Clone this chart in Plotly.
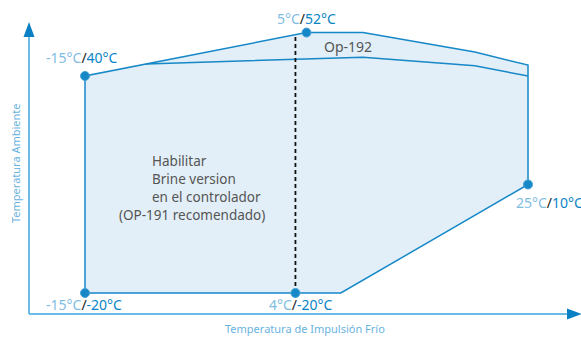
import plotly.graph_objects as go

# envelope outline (°C water / °C ambient)
outer_x = [-15, -15, 5, 10.1, 20.2, 25, 25, 8.1, -15]
outer_y = [-20, 40, 52, 52, 46.6, 43, 10, -20, -20]

# Op-192 inner boundary
inner_x = [-9.5, 10.1, 20.2, 25]
inner_y = [43.3, 45.2, 42.8, 40]

# dashed limit at 4°C
dash_x = [4, 4]
dash_y = [-20, 51.4]

# labelled corner points
pt_x = [-15, 5, 25, -15, 4]
pt_y = [40, 52, 10, -20, -20]

LIGHT = "#7fbde3"
DARK = "#0b84c6"
LINE = "#1688c8"
FONT = "Noto Sans"

fig = go.Figure()

fig.add_trace(go.Scatter(x=outer_x, y=outer_y, fill="toself", fillcolor="#e2eff8",
                         mode="lines", line=dict(color=LINE, width=1.5), hoverinfo="skip"))
fig.add_trace(go.Scatter(x=inner_x, y=inner_y, mode="lines",
                         line=dict(color=LINE, width=1.5), hoverinfo="skip"))
fig.add_trace(go.Scatter(x=dash_x, y=dash_y, mode="lines",
                         line=dict(color="#111111", width=1.8, dash="4px,3px"), hoverinfo="skip"))
fig.add_trace(go.Scatter(x=pt_x, y=pt_y, mode="markers",
                         marker=dict(size=9, color=LINE, line=dict(color="#4aa3d6", width=1))))

# label offsets in pixels (xshift, yshift)
offsets = [(-3, 18), (0, 14), (21, -18), (-1, -11), (6, -11)]
for x, y, (dx, dy) in zip(pt_x, pt_y, offsets):
    txt = (f"<span style='color:{LIGHT}'>{x}°C</span>"
           f"<span style='color:#222222'>/</span>"
           f"<span style='color:{DARK}'>{y}°C</span>")
    fig.add_annotation(x=x, y=y, text=txt, showarrow=False, xshift=dx, yshift=dy,
                       xanchor="center", yanchor="middle",
                       font=dict(family=FONT, size=14))


def note(px_x, px_y, text, color, size, anchor="center", angle=0):
    fig.add_annotation(x=px_x / 581, y=1 - px_y / 338, xref="paper", yref="paper",
                       text=text, showarrow=False, xanchor=anchor, yanchor="middle",
                       textangle=angle, font=dict(family=FONT, size=size, color=color))


note(348, 46, "Op-192", "#555555", 14)

note_lines = ["Habilitar", "Brine version", "en el controlador"]
for i, t in enumerate(note_lines):
    note(150, 161 + i * 18, t, "#555555", 13.5, anchor="left")
note(192, 215, "(OP-191 recomendado)", "#555555", 13.5)

# axis titles
note(305, 328, "Temperatura de Impulsión Frío", "#6ab3e0", 11)
note(15, 163, "Temperatura Ambiente", "#6ab3e0", 11, angle=-90)


# axis lines with arrow heads
def px(x, y):
    return x / 581, 1 - y / 338


shapes = []
x0, y0 = px(29, 314)
x1, y1 = px(29, 36)
shapes.append(dict(type="line", xref="paper", yref="paper", x0=x0, y0=y0, x1=x1, y1=y1,
                   line=dict(color="#6bbbe6", width=2)))
x2, y2 = px(570, 314)
shapes.append(dict(type="line", xref="paper", yref="paper", x0=x0, y0=y0, x1=x2, y1=y2,
                   line=dict(color="#6bbbe6", width=2)))
shapes.append(dict(type="path", xref="paper", yref="paper",
                   path=f"M {px(23.5,37)[0]} {px(23.5,37)[1]} L {px(34.5,37)[0]} {px(34.5,37)[1]} "
                        f"L {px(29,22)[0]} {px(29,22)[1]} Z",
                   fillcolor="#0a80c4", line=dict(width=0)))
shapes.append(dict(type="path", xref="paper", yref="paper",
                   path=f"M {px(567,308.5)[0]} {px(567,308.5)[1]} L {px(567,319.5)[0]} {px(567,319.5)[1]} "
                        f"L {px(582,314)[0]} {px(582,314)[1]} Z",
                   fillcolor="#0a80c4", line=dict(width=0)))

fig.update_layout(
    width=581, height=338,
    margin=dict(l=0, r=0, t=0, b=0),
    paper_bgcolor="white", plot_bgcolor="white",
    showlegend=False,
    shapes=shapes,
    xaxis=dict(range=[-22.675, 29.785], visible=False, fixedrange=True),
    yaxis=dict(range=[-32.44, 61.0], visible=False, fixedrange=True),
)

fig.write_html("out.html", config={"displayModeBar": False},
               post_script="document.body.style.margin='0';")
